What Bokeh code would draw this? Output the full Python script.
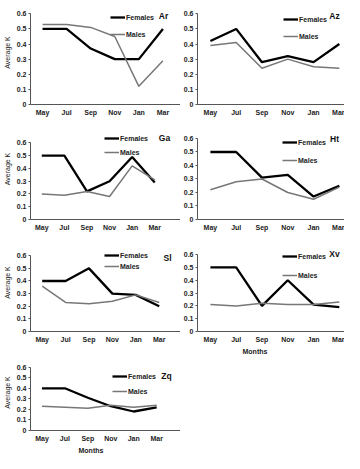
from bokeh.plotting import figure
from bokeh.models import Range1d, FixedTicker, Legend, LegendItem, Label, Title
from bokeh.layouts import column, row
from bokeh.embed import file_html
from bokeh.resources import INLINE

months = ["May", "Jul", "Sep", "Nov", "Jan", "Mar"]
y_ticks = [0, 0.1, 0.2, 0.3, 0.4, 0.5, 0.6]

ar_females = [0.50, 0.50, 0.37, 0.30, 0.30, 0.50]
ar_males = [0.53, 0.53, 0.51, 0.45, 0.12, 0.29]
az_females = [0.42, 0.50, 0.28, 0.32, 0.28, 0.40]
az_males = [0.39, 0.41, 0.24, 0.30, 0.25, 0.24]
ga_females = [0.50, 0.50, 0.22, 0.30, 0.49, 0.29]
ga_males = [0.20, 0.19, 0.22, 0.18, 0.42, 0.31]
ht_females = [0.50, 0.50, 0.31, 0.33, 0.17, 0.25]
ht_males = [0.22, 0.28, 0.30, 0.20, 0.15, 0.24]
sl_females = [0.40, 0.40, 0.50, 0.30, 0.29, 0.20]
sl_males = [0.36, 0.23, 0.22, 0.24, 0.29, 0.23]
xv_females = [0.50, 0.50, 0.20, 0.40, 0.21, 0.19]
xv_males = [0.21, 0.20, 0.22, 0.21, 0.21, 0.23]
zq_females = [0.40, 0.40, 0.31, 0.23, 0.18, 0.22]
zq_males = [0.23, 0.22, 0.21, 0.24, 0.22, 0.24]

FONT = "Liberation Sans"
FS = "7px"
FEM_COLOR = "#000000"
MAL_COLOR = "#777777"
TXT = "#222222"

x_pos = list(range(len(months)))


def panel(name, fem, mal, w, h, bl, border, x_end, y_end, leg_x, fem_y, mal_y, lab_x, lab_y,
          ylabel=False, months_offset=None):
    p = figure(width=w, height=h, x_range=Range1d(-0.5, x_end),
               y_range=Range1d(0, y_end), output_backend="svg", toolbar_location=None,
               min_border_left=bl, min_border_right=0, min_border_bottom=0, min_border_top=0)
    p.outline_line_color = None
    p.xgrid.visible = False
    p.ygrid.visible = False
    p.background_fill_color = "white"

    rf = p.line(x_pos, fem, line_color=FEM_COLOR, line_width=2.3)
    rm = p.line(x_pos, mal, line_color=MAL_COLOR, line_width=1.5)

    ya = p.yaxis[0]
    ya.ticker = FixedTicker(ticks=y_ticks)
    ya.bounds = (0, 0.6)
    ya.major_label_overrides = {0: "0"}
    ya.major_tick_out = 2
    ya.major_tick_in = 0
    ya.minor_tick_line_color = None
    ya.major_label_standoff = 2
    ya.axis_line_color = "#555555"
    ya.major_tick_line_color = "#555555"
    ya.major_label_text_font = FONT
    ya.major_label_text_font_size = FS
    ya.major_label_text_font_style = "bold"
    ya.major_label_text_color = TXT
    if ylabel:
        ya.axis_label = "Average K"
        ya.axis_label_text_font = FONT
        ya.axis_label_text_font_size = FS
        ya.axis_label_text_font_style = "normal"
        ya.axis_label_text_color = TXT
        ya.axis_label_standoff = 3
    else:
        ya.axis_label = None

    xa = p.xaxis[0]
    xa.axis_label = None
    xa.ticker = FixedTicker(ticks=x_pos)
    xa.major_label_overrides = {i: m for i, m in zip(x_pos, months)}
    xa.major_tick_line_color = None
    xa.minor_tick_line_color = None
    xa.major_tick_out = 0
    xa.major_tick_in = 0
    xa.axis_line_color = "#555555"
    xa.major_label_standoff = 4
    xa.major_label_text_font = FONT
    xa.major_label_text_font_size = FS
    xa.major_label_text_font_style = "bold"
    xa.major_label_text_color = TXT

    fh = h - border
    for r, lab, cy in ((rf, "Females", fem_y), (rm, "Males", mal_y)):
        lg = Legend(items=[LegendItem(label=lab, renderers=[r])],
                    location=(leg_x, fh - cy - 4), padding=0, margin=0,
                    glyph_width=15, glyph_height=8, label_height=8, label_standoff=1,
                    label_text_font=FONT, label_text_font_size=FS,
                    label_text_font_style="bold", label_text_color=TXT,
                    background_fill_alpha=0, border_line_alpha=0)
        p.add_layout(lg)

    p.add_layout(Label(x=lab_x, y=fh - lab_y, x_units="screen", y_units="screen", text=name,
                       text_align="center", text_baseline="middle", text_font=FONT,
                       text_font_size="8.5px", text_font_style="bold", text_color="#111111"))
    if months_offset is not None:
        p.add_layout(Title(text="Months", align="left", offset=months_offset, standoff=0,
                           text_font=FONT, text_font_size=FS, text_font_style="bold",
                           text_color=TXT), "below")
    return p


WL, WR = 180, 164
# row 1: top 8, height 118
p_ar = panel("Ar", ar_females, ar_males, WL, 118, 29, 24, 5.73, 0.688, 80, 7, 24, 133, 5, ylabel=True)
p_az = panel("Az", az_females, az_males, WR, 118, 15, 24, 5.2, 0.688, 86, 9, 26, 137, 5)
# row 2: top 126, height 115
p_ga = panel("Ga", ga_females, ga_males, WL, 115, 30, 24, 6.14, 0.791, 74, 10, 24, 134, 9, ylabel=True)
p_ht = panel("Ht", ht_females, ht_males, WR, 115, 15, 24, 5.2, 0.748, 85, 14, 32, 137, 10)
# row 3: top 241, height 121
p_sl = panel("Sl", sl_females, sl_males, WL, 121, 30, 33, 5.91, 0.776, 74, 12, 23, 137, 14, ylabel=True)
p_xv = panel("Xv", xv_females, xv_males, WR, 121, 15, 33, 5.2, 0.765, 85, 13, 32, 137, 10,
             months_offset=45)
# row 4: top 362, height 99
p_zq = panel("Zq", zq_females, zq_males, WL, 99, 23, 33, 6.04, 0.72, 82, 12, 27, 136, 11,
             ylabel=True, months_offset=48)

layout = column(row(p_ar, p_az), row(p_ga, p_ht), row(p_sl, p_xv), row(p_zq))

open("out.html", "w").write(file_html(layout, INLINE))
